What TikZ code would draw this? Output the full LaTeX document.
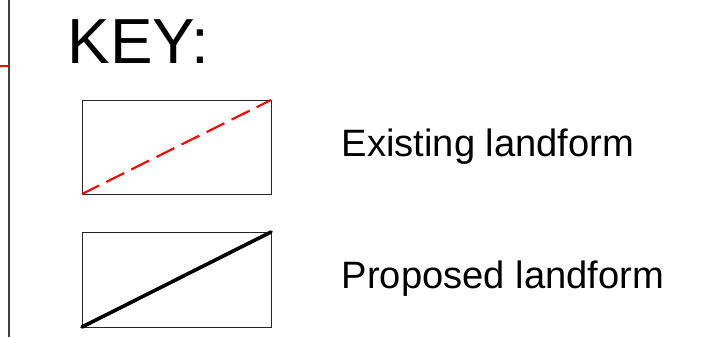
\documentclass[tikz,border=0pt]{standalone}
\usepackage{fontspec}
\setmainfont{Liberation Sans}
\begin{document}
\begin{tikzpicture}[x=0.75pt,y=-0.75pt,
  keybox/.style={draw=black!85,line width=0.75pt},
  txt/.style={inner sep=0pt,anchor=base west,font=\fontsize{28.6pt}{32pt}\selectfont},
  existline/.style={draw=red,line width=1.6pt,dash pattern=on 15pt off 6pt,dash phase=3pt},
  propline/.style={draw=black,line width=2.7pt,line cap=round}]
\useasboundingbox (0,0) rectangle (718,337);
% left border
\coordinate (vt) at (9,0);
\coordinate (vb) at (9,337);
\draw[black!75,line width=0.9pt] (vt) -- (vb);
\coordinate (rl) at (0,66);
\coordinate (rr) at (9,66);
\draw[red,line width=2pt] (rl) -- (rr);
% title
\node[inner sep=0pt,anchor=base west,font=\fontsize{47.8pt}{52pt}\selectfont] (key) at (67.5,63) {KEY:};
% existing
\coordinate (e1) at (82,100);
\coordinate (e2) at (271,194);
\draw[keybox] (e1) rectangle (e2);
\coordinate (etr) at (271,100);
\coordinate (ebl) at (82,194);
\draw[existline] (etr) -- (ebl);
\node[txt] (existing) at (341.5,156) {Existing landform};
% proposed
\coordinate (p1) at (82,232);
\coordinate (p2) at (271,327);
\draw[keybox] (p1) rectangle (p2);
\coordinate (pbl) at (82,327);
\coordinate (ptr) at (271,232);
\draw[propline] (pbl) -- (ptr);
\node[txt] (proposed) at (341.5,288) {Proposed landform};
\end{tikzpicture}
\end{document}
